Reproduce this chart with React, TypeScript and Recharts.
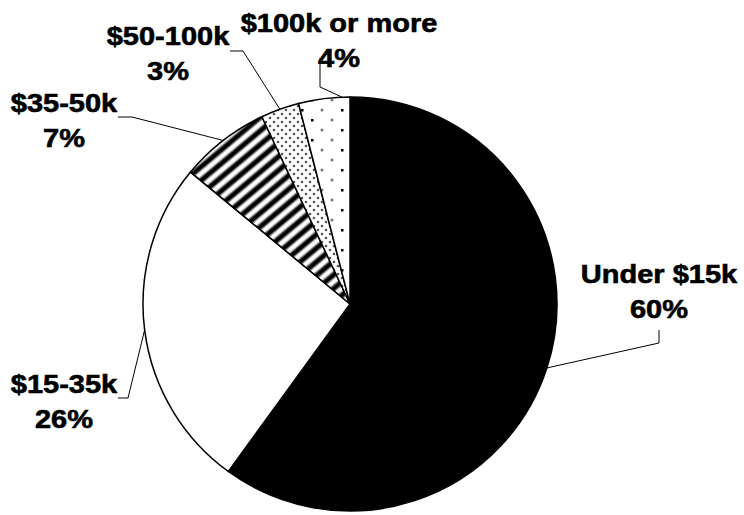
import { Cell, Pie, PieChart } from 'recharts';

// income brackets and their share of households (%)
const brackets = ['Under $15k', '$15-35k', '$35-50k', '$50-100k', '$100k or more'];
const shares = [60, 26, 7, 3, 4];
const fills = ['#000', '#fff', 'url(#stripes)', 'url(#dots)', 'url(#sparse)'];

const data = brackets.map((name, i) => ({ name, value: shares[i] }));

// where each label sits and how its leader line bends on the way out
const labelLayout = [
  { x: 659, y: 283, bends: [[659, 343], [659, 330]], tilt: 0 },
  { x: 64, y: 393, bends: [[128, 398], [118, 398]], tilt: 0 },
  { x: 64, y: 112, bends: [[132, 117], [118, 117]], tilt: 0 },
  { x: 168, y: 45, bends: [[243, 51], [230, 51]], tilt: 0 },
  { x: 339, y: 32, bends: [[320, 87], [320, 58]], tilt: -5 },
];

const RADIAN = Math.PI / 180;
const FONT = '"Liberation Sans", Arial, sans-serif';

const Caption = ({ x, y, text }: { x: number; y: number; text: string }) => (
  <text
    transform={`translate(${x},${y}) scale(1.16,1)`}
    textAnchor="middle"
    fontFamily={FONT}
    fontWeight="bold"
    fontSize={25}
    fill="#000"
    stroke="#000"
    strokeWidth={0.6}
  >
    {text}
  </text>
);

const renderLabel = (props: any) => {
  const { cx, cy, midAngle, outerRadius, index, name, value } = props;
  const layout = labelLayout[index];
  const angle = (midAngle + layout.tilt) * RADIAN;
  const sx = cx + outerRadius * Math.cos(-angle);
  const sy = cy + outerRadius * Math.sin(-angle);
  const points = [[sx, sy], ...layout.bends].map(p => p.join(',')).join(' ');
  return (
    <g key={name}>
      <polyline points={points} fill="none" stroke="#000" strokeWidth={1} />
      <Caption x={layout.x} y={layout.y} text={name} />
      <Caption x={layout.x} y={layout.y + 35} text={`${value}%`} />
    </g>
  );
};

export default function App() {
  return (
    <div style={{ position: 'absolute', left: 0, top: 0, background: '#fff' }}>
      <PieChart width={744} height={515} margin={{ top: 0, right: 0, bottom: 0, left: 0 }}>
        <defs>
          <linearGradient id="stripeShade" x1="0" y1="0" x2="1" y2="0">
            <stop offset="0" stopColor="#fff" />
            <stop offset="0.1" stopColor="#fff" />
            <stop offset="0.35" stopColor="#000" />
            <stop offset="0.6" stopColor="#000" />
            <stop offset="0.85" stopColor="#fff" />
            <stop offset="1" stopColor="#fff" />
          </linearGradient>
          <pattern
            id="stripes"
            patternUnits="userSpaceOnUse"
            width={10.5}
            height={10}
            patternTransform="rotate(50)"
          >
            <rect width={10.5} height={10} fill="url(#stripeShade)" />
          </pattern>
          <pattern id="dots" patternUnits="userSpaceOnUse" width={8} height={8}>
            <rect width={8} height={8} fill="#fff" />
            <circle cx={2} cy={2} r={1.3} fill="#555" />
            <circle cx={6} cy={6} r={1.3} fill="#555" />
          </pattern>
          <pattern id="sparse" patternUnits="userSpaceOnUse" x={-3} y={5} width={40} height={20}>
            <rect width={40} height={20} fill="#fff" />
            <rect x={24} y={4} width={2.5} height={2.5} fill="#000" />
            <rect x={34} y={14} width={2.5} height={2.5} fill="#000" />
            <circle cx={5} cy={5} r={1.5} fill="#777" />
            <circle cx={15} cy={15} r={1.5} fill="#777" />
          </pattern>
        </defs>
        <Pie
          data={data}
          dataKey="value"
          nameKey="name"
          cx={350}
          cy={304}
          outerRadius={207}
          startAngle={90}
          endAngle={-270}
          stroke="#000"
          strokeWidth={1.5}
          label={renderLabel}
          labelLine={false}
          isAnimationActive={false}
        >
          {data.map((d, i) => (
            <Cell key={d.name} fill={fills[i]} />
          ))}
        </Pie>
      </PieChart>
    </div>
  );
}
